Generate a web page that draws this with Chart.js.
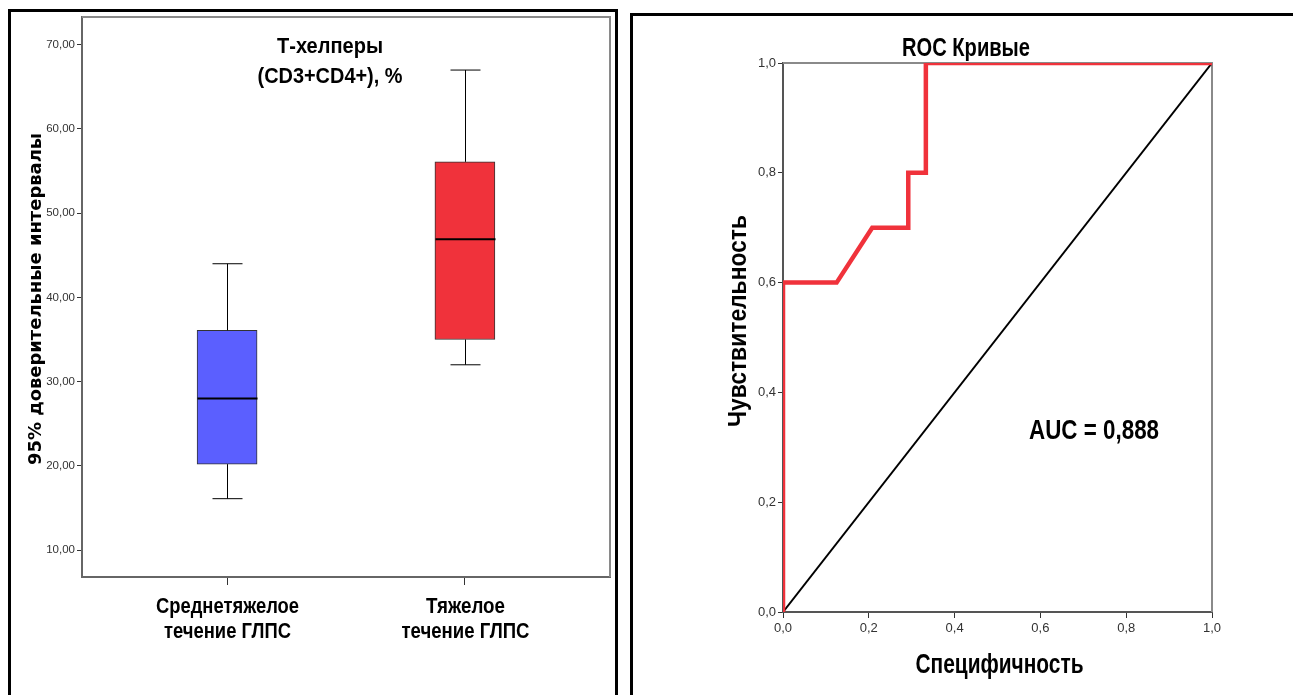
<!DOCTYPE html>
<html><head><meta charset="utf-8">
<script src="https://cdn.jsdelivr.net/npm/chart.js@4.4.1/dist/chart.umd.min.js"></script>
<style>
html,body{margin:0;padding:0;background:#fff;width:1293px;height:695px;overflow:hidden;}
#cl{position:absolute;left:0;top:0;}
#cr{position:absolute;left:620px;top:0;}
.fr{position:absolute;box-sizing:border-box;border:3px solid #000;border-bottom:none;pointer-events:none;}
</style></head><body>
<canvas id="cl" width="620" height="695"></canvas>
<canvas id="cr" width="673" height="695"></canvas>
<div class="fr" style="left:8px;top:9px;width:610px;height:700px;"></div>
<div class="fr" style="left:630px;top:13px;width:700px;height:700px;border-right:none;"></div>
<script>
// ---- data: box plot ----
const boxCategories = [["Среднетяжелое", "течение ГЛПС"], ["Тяжелое", "течение ГЛПС"]];
const boxMin    = [16.1, 32.0];
const boxQ1     = [20.2, 35.0];
const boxMedian = [28.0, 46.9];
const boxQ3     = [36.1, 56.1];
const boxMax    = [44.0, 67.0];
const boxColors = ["#5b5fff", "#f0323b"];
const boxYTicks = [10, 20, 30, 40, 50, 60, 70];
const boxTitle  = ["Т-хелперы", "(CD3+CD4+), %"];
const boxYTitle = "95% доверительные интервалы";
// ---- data: ROC ----
const rocFpr = [0, 0, 0.125, 0.208, 0.292, 0.292, 0.333, 0.333, 1];
const rocTpr = [0, 0.6, 0.6, 0.7, 0.7, 0.8, 0.8, 1, 1];
const refFpr = [0, 1];
const refTpr = [0, 1];
const rocTicks = [0, 0.2, 0.4, 0.6, 0.8, 1];
const rocTitle = "ROC Кривые";
const rocXTitle = "Специфичность";
const rocYTitle = "Чувствительность";
const aucText = "AUC = 0,888";

const SANS = '"Liberation Sans", Arial, sans-serif';
const WIDE = '"DejaVu Sans", Verdana, sans-serif';

// draw bold text centred on (cx, cy), squeezed/stretched along its length to a given width
function fitText(ctx, text, cx, cy, size, width, rot, family) {
  ctx.save();
  ctx.font = 'bold ' + size + 'px ' + (family || SANS);
  const w = ctx.measureText(text).width;
  ctx.translate(cx, cy);
  if (rot) ctx.rotate(rot);
  ctx.scale(width / w, 1);
  ctx.fillStyle = '#000';
  ctx.textAlign = 'center';
  ctx.textBaseline = 'middle';
  ctx.fillText(text, 0, 0);
  ctx.restore();
}

const frameBox = {
  id: 'frameBox',
  beforeDatasetsDraw(chart) {
    const {ctx, chartArea: a} = chart;
    ctx.save();
    ctx.strokeStyle = '#8a8a8a';
    ctx.lineWidth = 2;
    ctx.beginPath();
    ctx.moveTo(a.left, a.top); ctx.lineTo(a.right, a.top); ctx.lineTo(a.right, a.bottom);
    ctx.stroke();
    ctx.restore();
  }
};

const catWidths = [[143, 127], [79, 128]];
const boxExtras = {
  id: 'boxExtras',
  afterDatasetsDraw(chart) {
    const {ctx, chartArea: a} = chart;
    const xs = chart.scales.x, ys = chart.scales.y;
    ctx.save();
    ctx.strokeStyle = '#000';
    boxCategories.forEach((c, i) => {
      const cx = Math.round(xs.getPixelForValue(i + 1)) + 0.5;
      const yMin = ys.getPixelForValue(boxMin[i]);
      const yQ1 = ys.getPixelForValue(boxQ1[i]);
      const yQ3 = ys.getPixelForValue(boxQ3[i]);
      const yMax = ys.getPixelForValue(boxMax[i]);
      const yMed = ys.getPixelForValue(boxMedian[i]);
      ctx.lineWidth = 1;
      ctx.beginPath();
      ctx.moveTo(cx, yQ3); ctx.lineTo(cx, yMax);
      ctx.moveTo(cx - 15, yMax); ctx.lineTo(cx + 15, yMax);
      ctx.moveTo(cx, yQ1); ctx.lineTo(cx, yMin);
      ctx.moveTo(cx - 15, yMin); ctx.lineTo(cx + 15, yMin);
      ctx.stroke();
      ctx.lineWidth = 2;
      ctx.beginPath();
      ctx.moveTo(cx - 30, yMed); ctx.lineTo(cx + 30, yMed);
      ctx.stroke();
      // category labels (tick labels of x axis)
      c.forEach((line, j) => fitText(ctx, line, cx, a.bottom + 30 + j * 25, 22, catWidths[i][j]));
    });
    ctx.restore();
    fitText(ctx, boxTitle[0], 330, 47, 22, 106);
    fitText(ctx, boxTitle[1], 330, 77, 22, 145);
    fitText(ctx, boxYTitle, 36, (a.top + a.bottom) / 2 + 2, 18, 332, -Math.PI / 2, WIDE);
  }
};

new Chart(document.getElementById('cl'), {
  type: 'bar',
  data: {
    datasets: [{
      data: boxQ1.map((q, i) => ({x: i + 1, y: [q, boxQ3[i]]})),
      backgroundColor: boxColors,
      borderColor: '#333',
      borderWidth: 1,
      borderSkipped: false,
      barThickness: 60
    }]
  },
  options: {
    responsive: false, animation: false, devicePixelRatio: 1,
    layout: {padding: {left: 0, top: 17, right: 10, bottom: 0}},
    plugins: {legend: {display: false}, tooltip: {enabled: false}, title: {display: false}},
    scales: {
      x: {
        type: 'linear', min: 0.39, max: 2.61, offset: false,
        afterBuildTicks: s => { s.ticks = boxCategories.map((c, i) => ({value: i + 1})); },
        afterFit: s => { s.height = 118; },
        ticks: {display: false},
        grid: {drawOnChartArea: false, drawTicks: true, tickLength: 8, color: '#333', offset: false},
        border: {display: true, color: '#666', width: 2}
      },
      y: {
        type: 'linear', min: 6.8, max: 73.3,
        afterBuildTicks: s => { s.ticks = boxYTicks.map(v => ({value: v})); },
        afterFit: s => { s.width = 82; },
        ticks: {callback: v => v.toFixed(2).replace('.', ','), color: '#333', font: {family: SANS, size: 11.5}, padding: 2},
        grid: {drawOnChartArea: false, drawTicks: true, tickLength: 5, color: '#333'},
        border: {display: true, color: '#666', width: 2}
      }
    }
  },
  plugins: [frameBox, boxExtras]
});

const rocExtras = {
  id: 'rocExtras',
  afterDraw(chart) {
    const {ctx, chartArea: a} = chart;
    const xs = chart.scales.x, ys = chart.scales.y;
    fitText(ctx, rocTitle, 346, 49, 25, 128);
    fitText(ctx, aucText, xs.getPixelForValue(0.725), ys.getPixelForValue(0.33), 28, 130);
    fitText(ctx, rocXTitle, (a.left + a.right) / 2 + 2, 665, 28, 168);
    fitText(ctx, rocYTitle, 119, 321, 25, 212, -Math.PI / 2);
  }
};

new Chart(document.getElementById('cr'), {
  type: 'line',
  data: {
    datasets: [
      {data: rocFpr.map((x, i) => ({x, y: rocTpr[i]})), borderColor: '#f0323b', borderWidth: 4.5, pointRadius: 0, tension: 0, fill: false},
      {data: refFpr.map((x, i) => ({x, y: refTpr[i]})), borderColor: '#000', borderWidth: 2, pointRadius: 0, tension: 0, fill: false}
    ]
  },
  options: {
    responsive: false, animation: false, devicePixelRatio: 1,
    layout: {padding: {left: 0, top: 63, right: 81, bottom: 0}},
    plugins: {legend: {display: false}, tooltip: {enabled: false}, title: {display: false}},
    scales: {
      x: {
        type: 'linear', min: 0, max: 1,
        afterBuildTicks: s => { s.ticks = rocTicks.map(v => ({value: v})); },
        afterFit: s => { s.height = 83; },
        ticks: {callback: v => v.toFixed(1).replace('.', ','), color: '#333', font: {family: SANS, size: 13}, padding: 3, maxRotation: 0, autoSkip: false},
        grid: {drawOnChartArea: false, drawTicks: true, tickLength: 6, color: '#333'},
        border: {display: true, color: '#555', width: 2}
      },
      y: {
        type: 'linear', min: 0, max: 1,
        afterBuildTicks: s => { s.ticks = rocTicks.map(v => ({value: v})); },
        afterFit: s => { s.width = 163; },
        ticks: {callback: v => v.toFixed(1).replace('.', ','), color: '#333', font: {family: SANS, size: 13}, padding: 2},
        grid: {drawOnChartArea: false, drawTicks: true, tickLength: 5, color: '#333'},
        border: {display: true, color: '#555', width: 2}
      }
    }
  },
  plugins: [frameBox, rocExtras]
});
</script>
</body></html>
